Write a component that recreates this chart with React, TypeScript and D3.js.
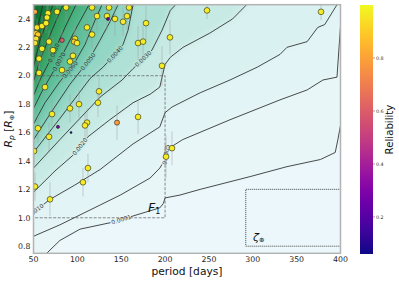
import React from 'react';
import * as d3 from 'd3';

// axis ticks
const periodTicks = [50, 100, 150, 200, 250, 300, 350, 400];
const radiusTicks = [0.8, 1.0, 1.2, 1.4, 1.6, 1.8, 2.0, 2.2, 2.4];
const reliabilityTicks = [0.2, 0.4, 0.6, 0.8];

// planet candidates: period [days], radius [R_earth], radius error, reliability
const periods = [51.7, 66.5, 65.4, 76.8, 87.1, 116.7, 136.1, 158.9, 54.0, 52.9, 59.7, 64.3, 55.1, 52.9, 51.7, 67.7,
  82.5, 97.3, 96.2, 99.6, 59.7, 72.2, 56.3, 95.0, 91.6, 82.5, 56.3, 63.1, 111.0, 116.7, 122.4, 133.8, 142.9, 156.6,
  152.1, 178.3, 169.2, 174.9, 205.6, 196.5, 124.7, 101.9, 91.6, 123.5, 71.1, 169.2, 145.2, 111.0, 108.7, 55.1, 67.7,
  50.6, 112.1, 106.4, 51.7, 68.8, 201.1, 207.9, 247.8, 377.8, 134.9, 77.9, 92.8];
const radii = [2.45, 2.44, 2.41, 2.45, 2.48, 2.48, 2.48, 2.48, 2.34, 2.30, 2.35, 2.37, 2.29, 2.26, 2.23, 2.24,
  2.25, 2.26, 2.24, 2.23, 2.19, 2.18, 2.12, 2.14, 2.10, 2.04, 2.02, 1.92, 2.34, 2.29, 2.42, 2.42, 2.40, 2.42,
  2.38, 2.37, 2.23, 2.24, 2.27, 2.07, 1.89, 1.80, 1.77, 1.81, 1.73, 1.71, 1.67, 1.67, 1.65, 1.63, 1.57,
  1.47, 1.35, 1.25, 1.22, 1.13, 1.43, 1.49, 2.46, 2.45, 2.40, 1.64, 1.60];
const radiusErrors = [0.06, 0.08, 0.08, 0.07, 0.1, 0.08, 0.1, 0.08, 0.06, 0.06, 0.07, 0.07, 0.07, 0.06, 0.07, 0.08,
  0.08, 0.1, 0.09, 0.1, 0.08, 0.09, 0.07, 0.1, 0.1, 0.09, 0.08, 0.09, 0.11, 0.1, 0.1, 0.1, 0.12, 0.1,
  0.1, 0.12, 0.12, 0.12, 0.12, 0.14, 0.1, 0.1, 0.1, 0.1, 0.1, 0.12, 0.12, 0.1, 0.1, 0.1, 0.1,
  0.1, 0.1, 0.1, 0.1, 0.12, 0.15, 0.12, 0.06, 0.06, 0, 0, 0];
const reliability = [0.8, 0.97, 0.97, 0.97, 0.97, 0.97, 0.97, 0.97, 0.95, 0.92, 0.97, 0.97, 0.9, 0.95, 0.95, 0.97,
  0.6, 0.95, 0.9, 0.97, 0.97, 0.97, 0.97, 0.97, 0.97, 0.97, 0.97, 0.97, 0.97, 0.97, 0.97, 0.97, 0.97, 0.97,
  0.97, 0.97, 0.97, 0.97, 0.97, 0.97, 0.97, 0.97, 0.97, 0.97, 0.97, 0.97, 0.78, 0.97, 0.97, 0.97, 0.97,
  0.97, 0.97, 0.97, 0.97, 0.97, 0.97, 0.97, 0.97, 0.97, 0.28, 0.3, 0.12];

// contour levels and their traced lines [period, radius]
const levels = [0.0001, 0.0005, 0.001, 0.002, 0.003, 0.004, 0.005, 0.006, 0.007, 0.008, 0.009, 0.01, 0.011];
const c0001 = [[65, 0.75], [80, 0.84], [103, 0.92], [141, 0.97], [178, 1.04], [194, 1.07], [198, 1.1], [200, 1.14],
  [217, 1.16], [240, 1.2], [297, 1.29], [339, 1.36], [377, 1.41], [394, 1.46], [397, 1.55], [400, 1.65]];
const c0005 = [[50, 0.87], [80, 0.95], [103, 1.02], [126, 1.09], [149, 1.16], [183, 1.28], [194, 1.35], [200, 1.41],
  [202, 1.48], [220, 1.55], [274, 1.69], [331, 1.83], [362, 1.9], [380, 1.97], [396, 1.99], [400, 2.35]];
const c0010 = [[50, 1.04], [69, 1.13], [97, 1.23], [126, 1.34], [163.5, 1.52], [194, 1.64], [200, 1.74], [208, 1.78],
  [240, 1.88], [274, 1.97], [305, 2.06], [331, 2.15], [339, 2.2], [362, 2.24], [374, 2.34], [382, 2.36], [391, 2.45], [396, 2.5]];
const c0020 = [[50, 1.18], [74.5, 1.33], [95, 1.44], [112, 1.57], [137, 1.69], [163.5, 1.81], [183, 1.87], [194, 1.92],
  [200, 2.08], [206, 2.13], [220.5, 2.2], [251, 2.3], [277, 2.4], [293, 2.5]];
const c0030 = [[50, 1.35], [80, 1.55], [103, 1.7], [126, 1.85], [151, 1.97], [163.5, 2.05], [185, 2.18], [196.5, 2.32],
  [206, 2.46], [212, 2.5]];
const c0040 = [[50, 1.46], [80.2, 1.7], [114.4, 1.98], [129.2, 2.06], [142.9, 2.15], [152.1, 2.22], [157.8, 2.32], [163.5, 2.5]];
const c0050 = [[50, 1.55], [68.8, 1.73], [91.6, 1.94], [112.1, 2.1], [125.8, 2.25], [137.2, 2.38], [146.4, 2.5]];
const c0060 = [[50, 1.66], [63.1, 1.81], [80.2, 1.96], [93.9, 2.06], [108.7, 2.22], [120.1, 2.39], [128.1, 2.5]];
const c0070 = [[50, 1.77], [59.7, 1.89], [79.1, 2.1], [97.3, 2.32], [113.3, 2.5]];
const c0080 = [[50, 1.86], [57.4, 1.97], [72.2, 2.15], [85.9, 2.34], [98.5, 2.5]];
const c0090 = [[50, 1.96], [57.4, 2.11], [71.1, 2.32], [83.6, 2.5]];
const c0100 = [[50, 2.06], [57.4, 2.25], [72.2, 2.5]];
const c0110 = [[50, 2.22], [60.8, 2.5]];
const contourLines = [c0001, c0005, c0010, c0020, c0030, c0040, c0050, c0060, c0070, c0080, c0090, c0100, c0110];
// period where each inline label sits (null = no label)
const labelPeriods = [150, 201, 51.5, 103, 175, 142.9, 112, 91.6, 79, 73, null, null, null];

// boxes
const f1Box = { p: [50, 200], r: [1.0, 2.0] };
const etaBox = { p: [292, 438], r: [0.8, 1.2] };

const W = 399;
const H = 281;
const plot = { left: 33.5, right: 340.5, top: 4.7, bottom: 253.3 };
const font = 'DejaVu Sans, sans-serif';

export default function App() {
  const x = d3.scaleLinear().domain([50, 400]).range([plot.left, plot.right]);
  const y = d3.scaleLinear().domain([0.75, 2.5]).range([plot.bottom, plot.top]);
  const [pMin] = x.domain();
  const [, rMax] = y.domain();
  const cbar = d3.scaleLinear().domain([0.06, 1.0]).range([254, 5]);
  const relColor = (r: number) => d3.interpolatePlasma((r - 0.06) / 0.94);
  const fill = d3.scaleSequential(d3.interpolateBuGn).domain([-0.00118, 0.01353]);
  const line = d3.line<number[]>().x(d => x(d[0])).y(d => y(d[1]));
  const fmt = d3.format('.4f');

  const pad = 14;
  const L = plot.left - pad, R = plot.right + pad, T = plot.top - pad, B = plot.bottom + pad;

  // filled bands: each level's region above/left of its line
  const bands = contourLines.map((pts, i) => {
    const px = pts.map(d => [x(d[0]), y(d[1])]);
    const s = pts[0], e = pts[pts.length - 1];
    const fromLeft = s[0] <= pMin;
    const toTop = e[1] >= rMax;
    const last = px[px.length - 1];
    const poly = [...px];
    if (fromLeft) poly.unshift([L, px[0][1]]); else poly.unshift([px[0][0], B]);
    if (toTop) poly.push([last[0], T]); else { poly.push([R, last[1]]); poly.push([R, T]); }
    poly.push([L, T]);
    if (!fromLeft) poly.push([L, B]);
    const next = i + 1 < levels.length ? levels[i + 1] : levels[i] + 0.0008;
    return { d: 'M' + poly.map(p => p.join(',')).join('L') + 'Z', color: fill((levels[i] + next) / 2) };
  });

  const labels = contourLines.map((pts, i) => {
    const lp = labelPeriods[i];
    if (lp == null) return null;
    const tx = x(lp);
    const px = pts.map(d => [x(d[0]), y(d[1])]);
    for (let k = 0; k < px.length - 1; k++) {
      const [x1, y1] = px[k];
      const [x2, y2] = px[k + 1];
      if ((x1 - tx) * (x2 - tx) <= 0) {
        const t = x2 === x1 ? 0.5 : (tx - x1) / (x2 - x1);
        let ang = (Math.atan2(y2 - y1, x2 - x1) * 180) / Math.PI;
        if (ang > 90) ang -= 180;
        if (ang < -90) ang += 180;
        return { x: x1 + t * (x2 - x1), y: y1 + t * (y2 - y1), ang, text: fmt(levels[i]), halo: fill(levels[i]) };
      }
    }
    return null;
  });

  const gradStops = d3.range(0, 1.0001, 0.05);

  return (
    <svg width={W} height={H} style={{ position: 'absolute', left: 0, top: 0, background: '#fff' }} fontFamily={font}>
      <defs>
        <clipPath id="plotClip">
          <rect x={plot.left} y={plot.top} width={plot.right - plot.left} height={plot.bottom - plot.top} />
        </clipPath>
        <filter id="soft" filterUnits="userSpaceOnUse" x={L - 20} y={T - 20} width={R - L + 40} height={B - T + 40}>
          <feGaussianBlur stdDeviation="3" />
        </filter>
        <linearGradient id="plasma" x1="0" y1="0" x2="0" y2="1">
          {gradStops.map(o => (
            <stop key={o} offset={o} stopColor={d3.interpolatePlasma(1 - o)} />
          ))}
        </linearGradient>
      </defs>

      <g clipPath="url(#plotClip)">
        <g filter="url(#soft)">
          <rect x={L} y={T} width={R - L} height={B - T} fill={fill(levels[0] / 2)} />
          {bands.map((b, i) => (
            <path key={i} d={b.d} fill={b.color} />
          ))}
        </g>
        {contourLines.map((pts, i) => (
          <path key={i} d={line(pts) || ''} fill="none" stroke="#2a2a2a" strokeWidth={0.85} />
        ))}
        {labels.map((lb, i) =>
          lb ? (
            <text key={i} transform={`translate(${lb.x},${lb.y}) rotate(${lb.ang})`} textAnchor="middle"
              dominantBaseline="central" fontSize={5.8} fill="#333" stroke={lb.halo} strokeWidth={2.4}
              style={{ paintOrder: 'stroke' }}>
              {lb.text}
            </text>
          ) : null
        )}
        <rect x={x(f1Box.p[0])} y={y(f1Box.r[1])} width={x(f1Box.p[1]) - x(f1Box.p[0])}
          height={y(f1Box.r[0]) - y(f1Box.r[1])} fill="none" stroke="#555" strokeWidth={0.8}
          strokeDasharray="3,1.5" opacity={0.85} />
        <rect x={x(etaBox.p[0])} y={y(etaBox.r[1])} width={x(etaBox.p[1]) - x(etaBox.p[0])}
          height={y(etaBox.r[0]) - y(etaBox.r[1])} fill="none" stroke="#333" strokeWidth={0.9}
          strokeDasharray="1,1" />
        {periods.map((p, i) =>
          radiusErrors[i] > 0 ? (
            <line key={i} x1={x(p)} x2={x(p)} y1={y(radii[i] - radiusErrors[i])} y2={y(radii[i] + radiusErrors[i])}
              stroke="#9a9a9a" strokeWidth={1.3} opacity={0.35} />
          ) : null
        )}
        {periods.map((p, i) => (
          <circle key={i} cx={x(p)} cy={y(radii[i])} r={2.9 * Math.sqrt(reliability[i])}
            fill={relColor(reliability[i])} stroke="#111" strokeWidth={0.55} />
        ))}
      </g>

      {/* annotations */}
      <text x={x(180.6)} y={y(1.044)} fontSize={12.5} fontStyle="italic" fill="#111">
        F<tspan fontSize={8} dy={2.5} fontStyle="normal">1</tspan>
      </text>
      <text x={x(300.3)} y={y(0.84)} fontSize={11} fontStyle="italic" fill="#111">
        ζ<tspan fontSize={6.5} dy={1.5} fontStyle="normal">⊕</tspan>
      </text>

      {/* frame */}
      <rect x={plot.left} y={plot.top} width={plot.right - plot.left} height={plot.bottom - plot.top}
        fill="none" stroke="#b3b3b3" strokeWidth={1.5} />

      {/* axes */}
      {periodTicks.map(t => (
        <text key={t} x={x(t)} y={262} textAnchor="middle" fontSize={7.8} fill="#262626">{t}</text>
      ))}
      {radiusTicks.map(t => (
        <text key={t} x={30.5} y={y(t)} dy="0.35em" textAnchor="end" fontSize={7.8} fill="#262626">{t.toFixed(1)}</text>
      ))}
      <text x={(plot.left + plot.right) / 2} y={275} textAnchor="middle" fontSize={10.7} fill="#111">period [days]</text>
      <text transform={`translate(12,${(plot.top + plot.bottom) / 2}) rotate(-90)`} textAnchor="middle" fontSize={10.7} fill="#111">
        <tspan fontStyle="italic">R</tspan>
        <tspan fontStyle="italic" fontSize={7.5} dy={2}>p</tspan>
        <tspan dy={-2}> [</tspan>
        <tspan fontStyle="italic">R</tspan>
        <tspan fontSize={6.5} dy={2}>⊕</tspan>
        <tspan dy={-2}>]</tspan>
      </text>

      {/* colorbar */}
      <rect x={360} y={cbar(1.0)} width={13} height={cbar(0.06) - cbar(1.0)} fill="url(#plasma)" />
      {reliabilityTicks.map(t => (
        <g key={t}>
          <line x1={373} x2={375} y1={cbar(t)} y2={cbar(t)} stroke="#444" strokeWidth={0.5} />
          <text x={376} y={cbar(t)} dy="0.35em" fontSize={4.8} fill="#333">{t.toFixed(1)}</text>
        </g>
      ))}
      <text transform={`translate(393,${(cbar(1.0) + cbar(0.06)) / 2}) rotate(-90)`} textAnchor="middle" fontSize={10.2} fill="#111">
        Reliability
      </text>
    </svg>
  );
}
